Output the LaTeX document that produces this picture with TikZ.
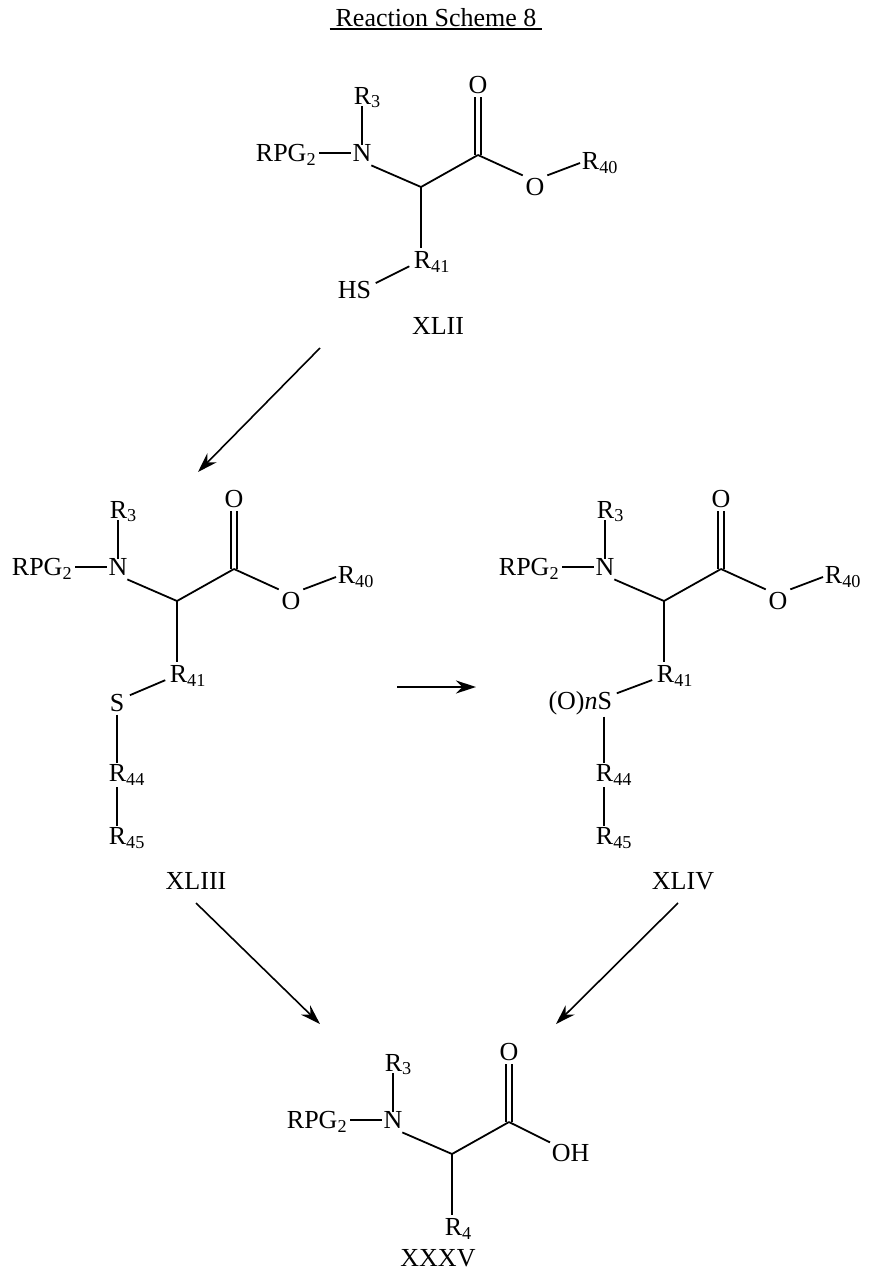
\documentclass[tikz,border=0pt]{standalone}
\usepackage{fontspec}
\usetikzlibrary{arrows.meta}
\setmainfont{Liberation Serif}
\begin{document}
\begin{tikzpicture}[x=1pt,y=-1pt,line width=1.8pt,
  every node/.style={font=\fontsize{26}{30}\selectfont,inner sep=2pt},
  sb/.style={shorten >=3pt,shorten <=3pt},
  arr/.style={-{Stealth[length=20pt,width=13pt]},line width=1.6pt},
  pics/core/.style={code={
    \node[inner sep=1pt] (-N) at (0,0) {N};
    \node[anchor=south west,inner sep=0pt] (-R3) at (-9,-44) {R\textsubscript{3}};
    \node[anchor=east,inner sep=0pt] (-RPG) at (-45,2) {RPG\textsubscript{2}};
    \coordinate (-CH) at (59,34);
    \coordinate (-C) at (116,2);
    \node (-O) at (116,-68) {O};
    \node[anchor=west,inner sep=1pt] (-R41) at (50,109) {R\textsubscript{#1}};
    \draw ([yshift=-2pt]-N.north) -- ([xshift=9,yshift=3]-R3.south west);
    \draw ([xshift=2]-N.west -| -RPG.east) -- (-N.west);
    \draw ([xshift=-2pt,yshift=-2pt]-N.south east) -- (-CH) -- (-C);
    \draw ([xshift=-3pt]-C) -- ([xshift=-3pt]-O.south);
    \draw ([xshift=3pt]-C) -- ([xshift=3pt]-O.south);
    \draw (-CH) -- ([yshift=2]-CH |- -R41.north);
  }}]
\useasboundingbox (0,0) rectangle (874,1273);
\node (title) at (436,18) {Reaction Scheme 8};
\draw[line width=1.2pt] ([shift={(-3,-1)}]title.south west) -- ([shift={(3,-1)}]title.south east);

% XLII
\pic (a) at (362,153) {core=41};
\node (aO) at (535,187) {O};
\node[anchor=west,inner sep=1pt] (aR40) at (580,163) {R\textsubscript{40}};
\draw (a-C) -- (aO.north west);
\draw (aO.north east) -- (aR40.west);
\node[anchor=east,inner sep=1pt] (aS) at (373,290) {HS};
\draw[sb] ([yshift=-5]aS.north east) -- ([yshift=-3]a-R41.west);
\node (aL) at (438,326) {XLII};

% XLIII
\pic (b) at (118,567) {core=41};
\node (bO) at (291,601) {O};
\node[anchor=west,inner sep=1pt] (bR40) at (336,577) {R\textsubscript{40}};
\draw (b-C) -- (bO.north west);
\draw (bO.north east) -- (bR40.west);
\node (bS) at (117,703) {S};
\draw[sb] ([yshift=-5]bS.north east) -- ([yshift=-3]b-R41.west);
\node[anchor=west,inner sep=1pt] (bR44) at (107,775) {R\textsubscript{44}};
\node[anchor=west,inner sep=1pt] (bR45) at (107,838) {R\textsubscript{45}};
\draw (bS.south) -- (bS.south |- bR44.north);
\draw (bS.south |- bR44.south) -- (bS.south |- bR45.north);
\node (bL) at (196,881) {XLIII};

% XLIV
\pic (c) at (605,567) {core=41};
\node (cO) at (778,601) {O};
\node[anchor=west,inner sep=1pt] (cR40) at (823,577) {R\textsubscript{40}};
\draw (c-C) -- (cO.north west);
\draw (cO.north east) -- (cR40.west);
\node[anchor=east,inner sep=1pt] (cS) at (614,703) {(O)\textit{n}S};
\coordinate (cSx) at (604,703);
\draw[sb] ([yshift=-5]cS.north east) -- ([yshift=-3]c-R41.west);
\node[anchor=west,inner sep=1pt] (cR44) at (594,775) {R\textsubscript{44}};
\node[anchor=west,inner sep=1pt] (cR45) at (594,838) {R\textsubscript{45}};
\draw (cSx |- cS.south) -- (cSx |- cR44.north);
\draw (cSx |- cR44.south) -- (cSx |- cR45.north);
\node (cL) at (683,881) {XLIV};

% XXXV
\pic (d) at (393,1120) {core=4};
\node[anchor=west,inner sep=1pt] (dOH) at (550,1153) {OH};
\draw (d-C) -- (dOH.north west);
\node (dL) at (438,1258) {XXXV};

% arrows
\coordinate (p1) at (320,348); \coordinate (p2) at (198,472);
\coordinate (p3) at (397,687); \coordinate (p4) at (476,687);
\coordinate (p5) at (196,903); \coordinate (p6) at (320,1024);
\coordinate (p7) at (678,903); \coordinate (p8) at (556,1024);
\draw[arr] (p1) -- (p2);
\draw[arr] (p3) -- (p4);
\draw[arr] (p5) -- (p6);
\draw[arr] (p7) -- (p8);
\end{tikzpicture}
\end{document}
